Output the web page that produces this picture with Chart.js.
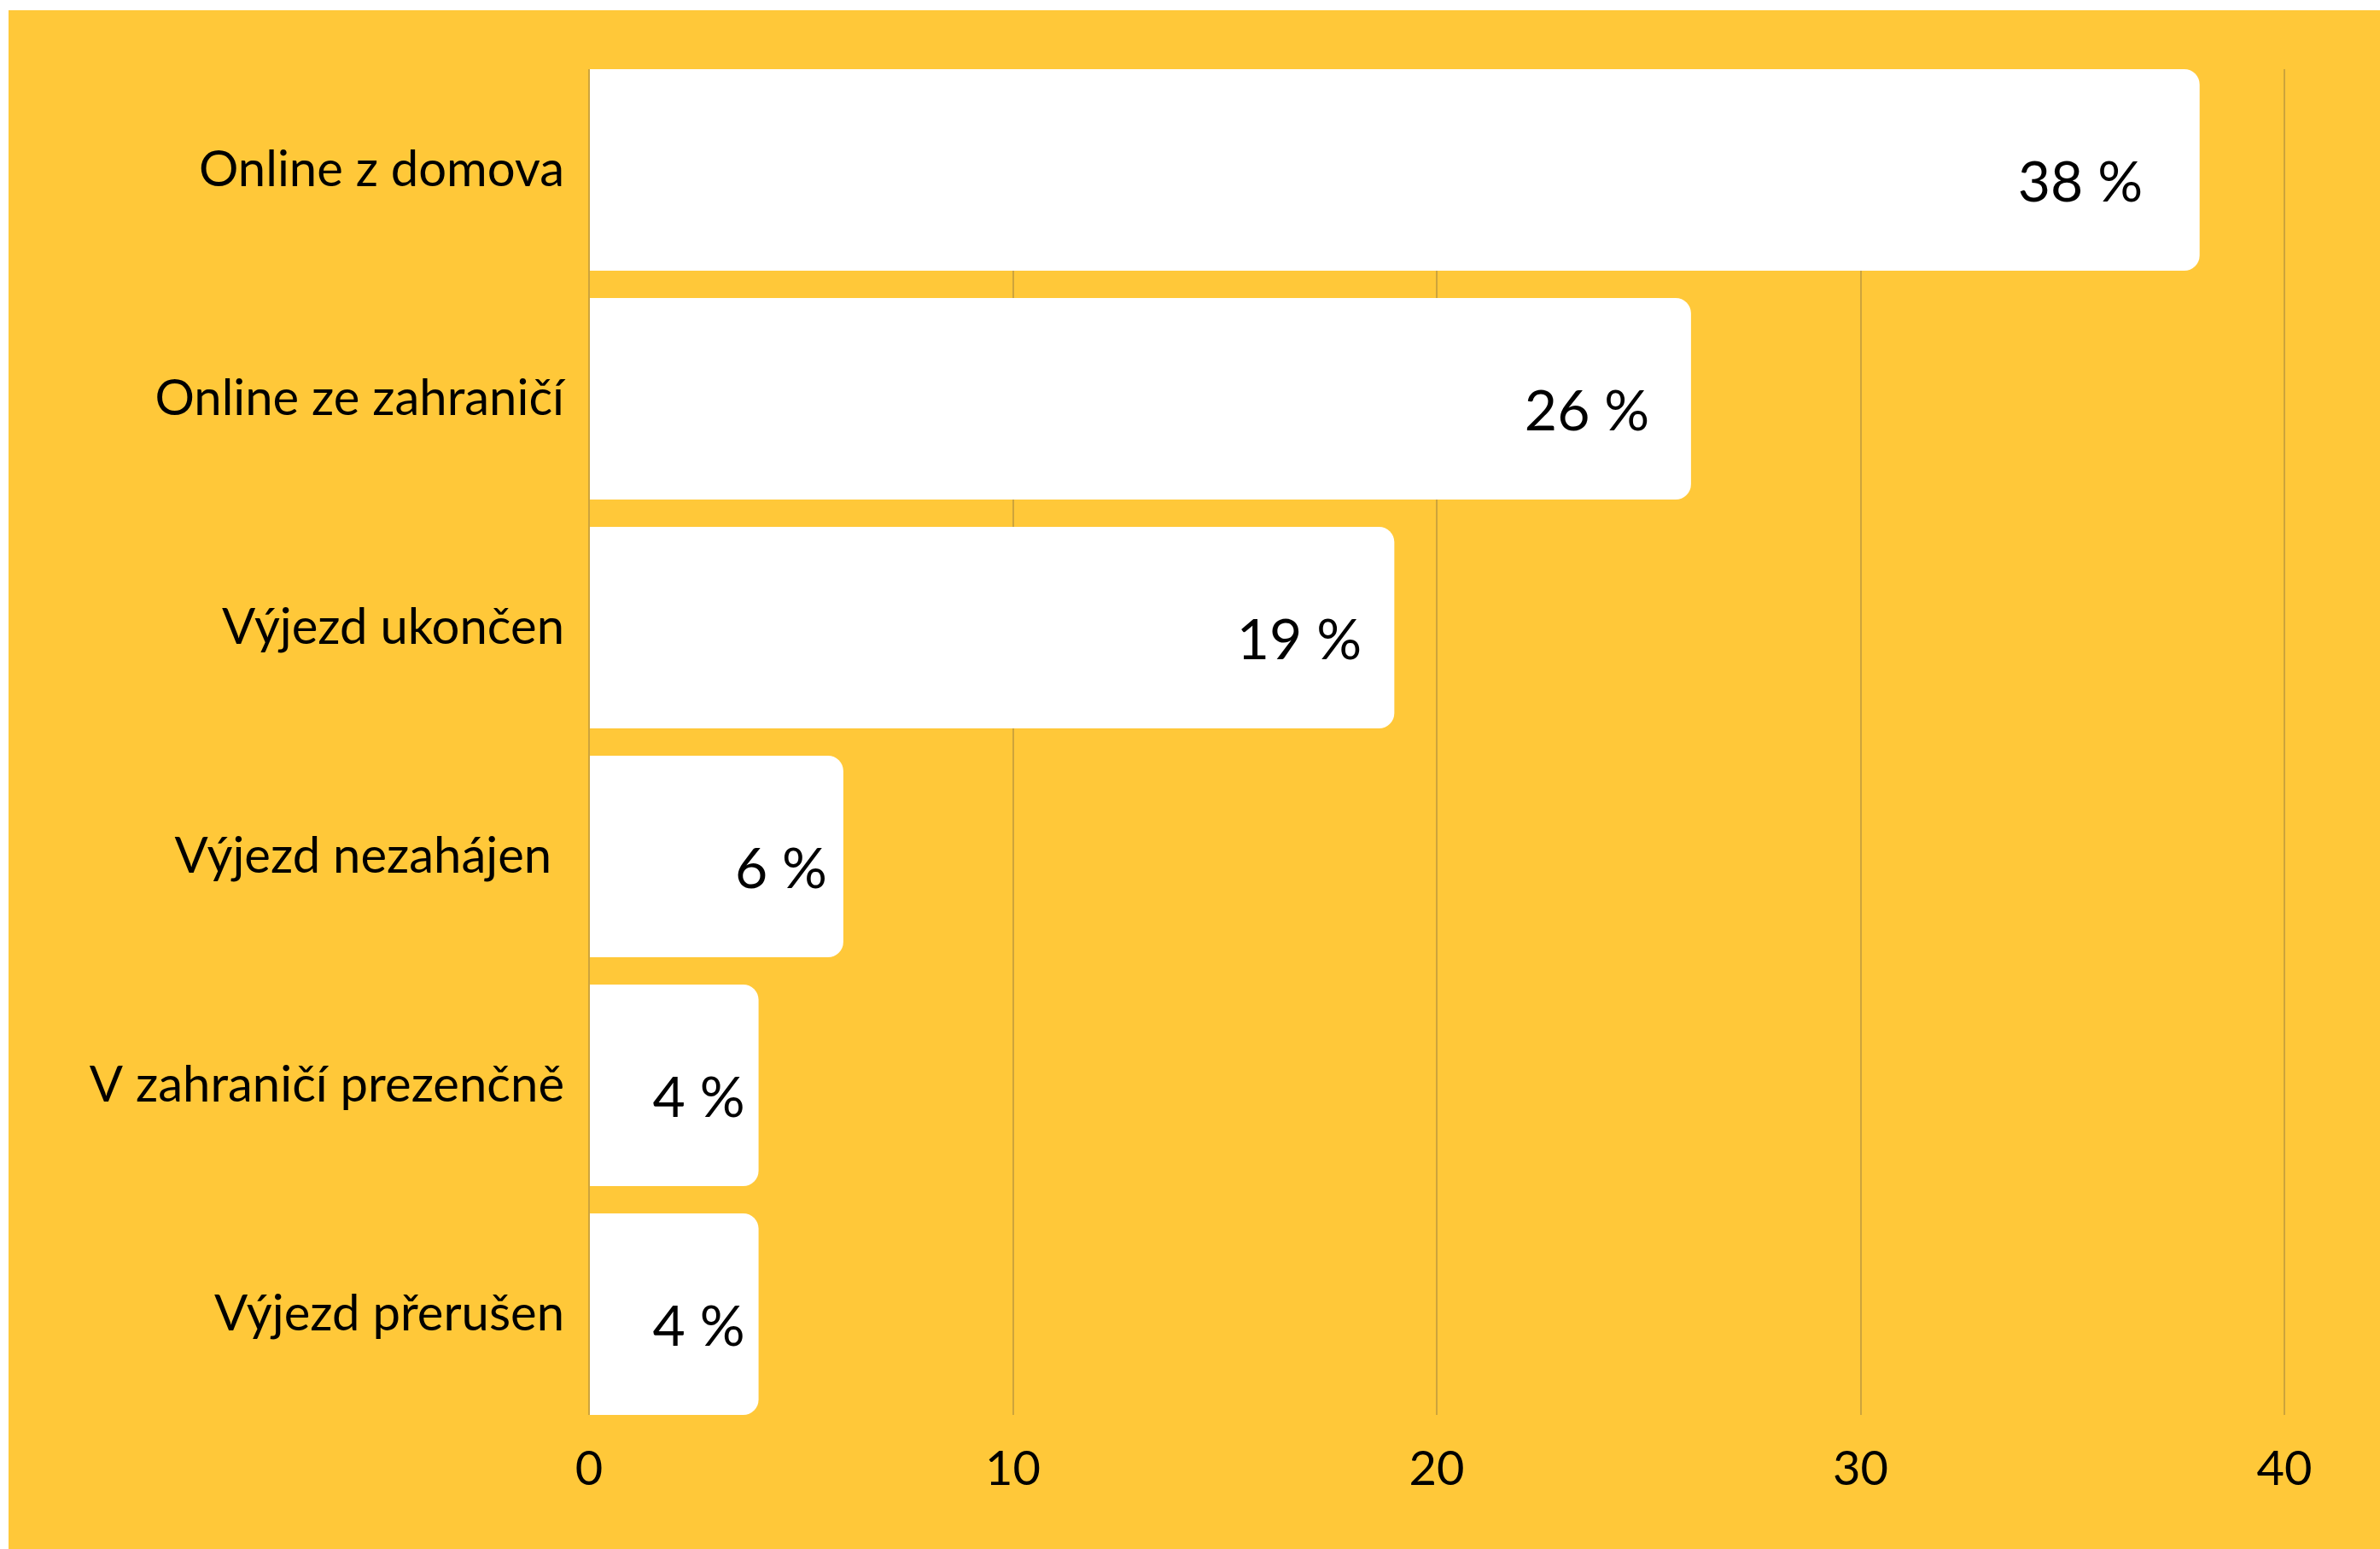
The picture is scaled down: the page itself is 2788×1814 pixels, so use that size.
<!DOCTYPE html>
<html>
<head>
<meta charset="utf-8">
<script src="https://cdn.jsdelivr.net/npm/chart.js@4.4.1/dist/chart.umd.min.js"></script>
<style>
  html, body { margin: 0; padding: 0; background: #ffffff; }
  #wrap { position: absolute; left: 10px; top: 12px; width: 2778px; height: 1802px; background: #FFC839; }
  canvas { display: block; }
</style>
</head>
<body>
<div id="wrap"><canvas id="c" width="2778" height="1802"></canvas></div>
<script>
const categories = ["Online z domova", "Online ze zahraničí", "Výjezd ukončen", "Výjezd nezahájen ", "V zahraničí prezenčně", "Výjezd přerušen"];
const values = [38, 26, 19, 6, 4, 4];
const valueLabels = ["38 %", "26 %", "19 %", "6 %", "4 %", "4 %"];
const xTicks = [0, 10, 20, 30, 40];

const FONT = "Lato, 'Open Sans', sans-serif";
const BG = '#FFC839';

// trims the vertical gridlines so they run only from the first bar's top to the last bar's bottom
const gridTrimPlugin = {
  id: 'gridTrim',
  beforeDatasetsDraw(chart) {
    const ctx = chart.ctx;
    const area = chart.chartArea;
    const bars = chart.getDatasetMeta(0).data;
    if (!bars.length) return;
    const first = bars[0], last = bars[bars.length - 1];
    const topEdge = first.y - first.height / 2;
    const bottomEdge = last.y + last.height / 2;
    ctx.save();
    ctx.fillStyle = BG;
    ctx.fillRect(area.left - 3, area.top - 1, area.right - area.left + 6, topEdge - area.top + 1);
    ctx.fillRect(area.left - 3, bottomEdge, area.right - area.left + 6, area.bottom - bottomEdge + 1);
    ctx.restore();
  }
};

const valueLabelPlugin = {
  id: 'valueLabels',
  afterDatasetsDraw(chart) {
    const ctx = chart.ctx;
    const meta = chart.getDatasetMeta(0);
    ctx.save();
    ctx.fillStyle = '#000000';
    ctx.font = '66px ' + FONT;
    ctx.textAlign = 'right';
    ctx.textBaseline = 'middle';
    meta.data.forEach((el, i) => {
      const len = el.x - el.base;
      const xr = el.x - (len * 0.03 + 10);
      ctx.fillText(valueLabels[i], xr, el.y + 16);
    });
    ctx.restore();
  }
};

new Chart(document.getElementById('c'), {
  type: 'bar',
  data: {
    labels: categories,
    datasets: [{
      data: values,
      backgroundColor: '#FFFFFF',
      borderWidth: 0,
      borderRadius: 18,
      borderSkipped: 'start',
      barPercentage: 1,
      categoryPercentage: 236 / 268
    }]
  },
  options: {
    indexAxis: 'y',
    responsive: false,
    animation: false,
    devicePixelRatio: 1,
    layout: { padding: { left: 0, right: 112, top: 53, bottom: 0 } },
    plugins: { legend: { display: false }, tooltip: { enabled: false } },
    scales: {
      x: {
        min: 0, max: 40,
        afterBuildTicks(scale) { scale.ticks = xTicks.map(v => ({ value: v })); },
        afterFit(scale) { scale.height = 141; },
        grid: { color: '#CDA43C', lineWidth: 2, drawTicks: false },
        border: { display: false },
        ticks: { color: '#000000', font: { family: FONT, size: 56 }, padding: 14 }
      },
      y: {
        afterFit(scale) { scale.width = 680; scale.paddingTop = 0; scale.paddingBottom = 0; },
        grid: { display: false, drawTicks: false },
        border: { display: false },
        ticks: { color: '#000000', font: { family: FONT, size: 58 }, padding: 29 }
      }
    }
  },
  plugins: [gridTrimPlugin, valueLabelPlugin]
});
</script>
</body>
</html>
